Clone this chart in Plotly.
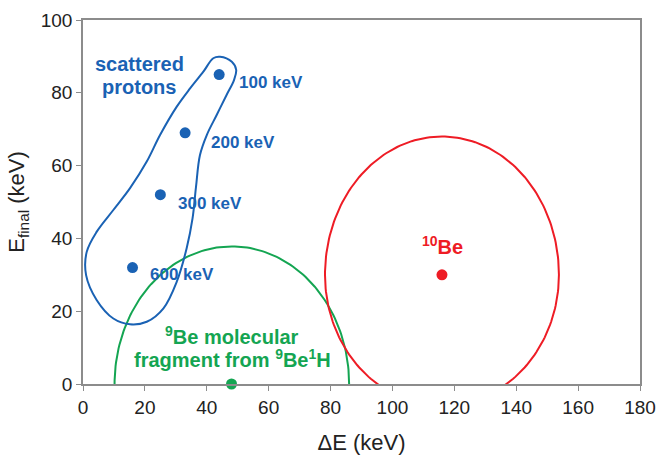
import numpy as np
import plotly.graph_objects as go

# ---- data ----
proton_energy_labels = ["100 keV", "200 keV", "300 keV", "600 keV"]
proton_dE = [44, 33, 25, 16]
proton_Efinal = [85, 69, 52, 32]

be9_dE = [48]
be9_Efinal = [0]

be10_dE = [116]
be10_Efinal = [30]

# closed outline around the scattered protons
proton_contour_x = [44.3, 48.1, 49.5, 48.8, 46.4, 43.2, 40.0, 37.8, 36.5, 35.4, 33.5,
                    30.3, 26.0, 20.6, 15.2, 9.8, 4.4, 1.0, 1.2, 4.4, 9.8, 15.2,
                    20.6, 24.9, 30.3, 34.6, 38.9, 42.1, 44.3]
proton_contour_y = [89.9, 88.5, 86.3, 83.5, 79.4, 73.9, 68.4, 62.9, 54.0, 45.5, 37.3,
                    28.1, 20.8, 17.1, 16.4, 18.0, 23.1, 29.9, 36.3, 41.8, 47.8, 53.8,
                    61.1, 68.4, 76.2, 81.2, 85.8, 89.5, 89.9]

# ellipse-like regions: center x, center y, half-width, half-height above, half-height below
be9_region = [48.1, 0.0, 37.9, 37.8, 37.8]
be10_region = [116.0, 30.0, 37.8, 38.0, 36.0]

x_ticks = [0, 20, 40, 60, 80, 100, 120, 140, 160, 180]
y_ticks = [0, 20, 40, 60, 80, 100]

BLUE = "#1a62b4"
GREEN = "#14a552"
RED = "#ee1c25"
FONT = "Liberation Sans, Arial, sans-serif"


def region_outline(params, n=241):
    cx, cy, rx, ry_top, ry_bot = params
    t = np.linspace(0, 2 * np.pi, n)
    xs = cx + rx * np.cos(t)
    s = np.sin(t)
    ys = cy + np.where(s >= 0, ry_top, ry_bot) * s
    return xs, ys


fig = go.Figure()

gx, gy = region_outline(be9_region)
fig.add_trace(go.Scatter(x=gx, y=gy, mode="lines", line=dict(color=GREEN, width=2),
                         hoverinfo="skip", showlegend=False))
rx_, ry_ = region_outline(be10_region)
fig.add_trace(go.Scatter(x=rx_, y=ry_, mode="lines", line=dict(color=RED, width=2),
                         hoverinfo="skip", showlegend=False))
fig.add_trace(go.Scatter(x=proton_contour_x, y=proton_contour_y, mode="lines",
                         line=dict(color=BLUE, width=2, shape="spline", smoothing=1.0),
                         hoverinfo="skip", showlegend=False))

fig.add_trace(go.Scatter(x=proton_dE, y=proton_Efinal, mode="markers",
                         marker=dict(color=BLUE, size=11), showlegend=False,
                         cliponaxis=False))
fig.add_trace(go.Scatter(x=be9_dE, y=be9_Efinal, mode="markers",
                         marker=dict(color=GREEN, size=11), showlegend=False,
                         cliponaxis=False))
fig.add_trace(go.Scatter(x=be10_dE, y=be10_Efinal, mode="markers",
                         marker=dict(color=RED, size=11), showlegend=False,
                         cliponaxis=False))

ann = []
label_pos = {"100 keV": (49.8, 82.7), "200 keV": (40.7, 66.3),
             "300 keV": (30.1, 49.6), "600 keV": (21.0, 30.0)}
for lab in proton_energy_labels:
    lx, ly = label_pos[lab]
    ann.append(dict(x=lx, y=ly, text=lab, showarrow=False, xanchor="left", yanchor="middle",
                    font=dict(family=FONT, size=17, color=BLUE, weight="bold")))

ann.append(dict(x=18.2, y=87.8, text="scattered", showarrow=False,
                font=dict(family=FONT, size=20, color=BLUE, weight="bold")))
ann.append(dict(x=18.2, y=81.6, text="protons", showarrow=False,
                font=dict(family=FONT, size=20, color=BLUE, weight="bold")))
ann.append(dict(x=48.0, y=13.3, text="<sup>9</sup>Be molecular", showarrow=False,
                font=dict(family=FONT, size=20, color=GREEN, weight="bold")))
ann.append(dict(x=48.2, y=6.9, text="fragment from <sup>9</sup>Be<sup>1</sup>H", showarrow=False,
                font=dict(family=FONT, size=20, color=GREEN, weight="bold")))
ann.append(dict(x=116.1, y=38.0, text="<sup>10</sup>Be", showarrow=False,
                font=dict(family=FONT, size=20, color=RED, weight="bold")))

axis_common = dict(showgrid=False, zeroline=False, showline=True, linecolor="#8c8c8c",
                   linewidth=1.5, mirror=True, ticks="outside", ticklen=5,
                   tickcolor="#8c8c8c", tickwidth=1.2, automargin=False,
                   tickfont=dict(family=FONT, size=19, color="#222222"))

fig.update_layout(
    width=659, height=462,
    margin=dict(l=83, r=19, t=20, b=78),
    paper_bgcolor="white", plot_bgcolor="white",
    xaxis=dict(range=[0, 180], tickvals=x_ticks,
               title=dict(text="ΔE (keV)", font=dict(family=FONT, size=22, color="#222222"),
                          standoff=18),
               **axis_common),
    yaxis=dict(range=[0, 100], tickvals=y_ticks,
               title=dict(text="E<sub>final</sub> (keV)",
                          font=dict(family=FONT, size=22, color="#222222"), standoff=10),
               **axis_common),
    annotations=ann,
    showlegend=False,
)

fig.write_html("out.html")
